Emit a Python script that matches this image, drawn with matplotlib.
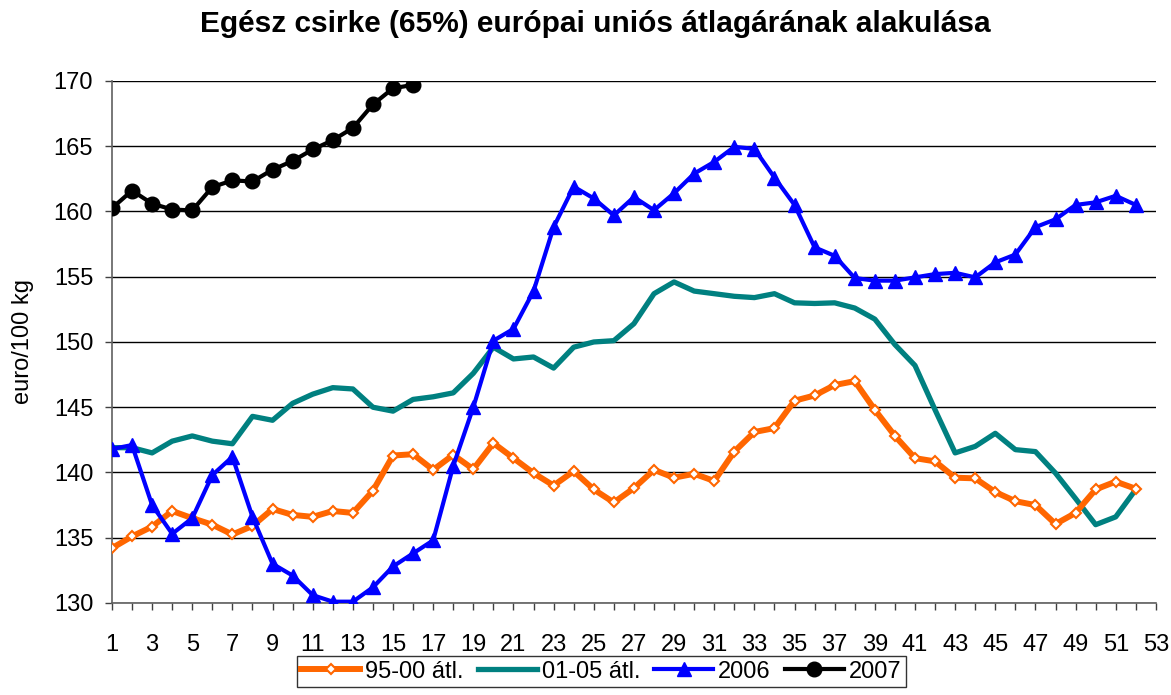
import numpy as np
import matplotlib.pyplot as plt

plt.rcParams['font.family'] = ['Liberation Sans', 'DejaVu Sans']

weeks = np.arange(1, 53)
weeks_2007 = np.arange(1, 17)

avg_95_00 = [134.2, 135.1, 135.85, 137.05, 136.5, 136.0, 135.25, 135.9, 137.2, 136.75,
             136.6, 137.05, 136.9, 138.6, 141.3, 141.4, 140.2, 141.35, 140.25, 142.25,
             141.1, 139.95, 139.0, 140.1, 138.7, 137.7, 138.8, 140.2, 139.6, 139.9,
             139.35, 141.6, 143.1, 143.4, 145.5, 145.9, 146.7, 147.0, 144.8, 142.8,
             141.1, 140.85, 139.6, 139.55, 138.5, 137.8, 137.5, 136.05, 136.9, 138.7,
             139.3, 138.75]
avg_01_05 = [141.9, 141.9, 141.5, 142.4, 142.8, 142.4, 142.2, 144.3, 144.0, 145.3,
             146.0, 146.5, 146.4, 145.0, 144.7, 145.6, 145.8, 146.1, 147.6, 149.6,
             148.7, 148.85, 148.0, 149.6, 150.0, 150.1, 151.4, 153.7, 154.6, 153.9,
             153.7, 153.5, 153.4, 153.7, 153.0, 152.95, 153.0, 152.6, 151.75, 149.8,
             148.2, 144.8, 141.5, 142.0, 143.0, 141.75, 141.6, 139.95, 138.0, 136.0,
             136.6, 138.7]
y2006 = [141.8, 142.1, 137.5, 135.3, 136.5, 139.8, 141.2, 136.6, 133.0, 132.1,
         130.6, 130.1, 130.1, 131.2, 132.8, 133.8, 134.8, 140.5, 145.0, 150.1,
         151.0, 153.9, 158.8, 161.9, 161.0, 159.7, 161.1, 160.1, 161.4, 162.9,
         163.8, 164.95, 164.8, 162.6, 160.5, 157.25, 156.6, 154.9, 154.7, 154.7,
         154.95, 155.2, 155.3, 154.95, 156.1, 156.7, 158.8, 159.4, 160.5, 160.7,
         161.2, 160.5]
y2007 = [160.25, 161.6, 160.6, 160.15, 160.08, 161.87, 162.38, 162.3, 163.2, 163.87,
         164.75, 165.46, 166.4, 168.2, 169.44, 169.7]

fig = plt.figure(figsize=(11.71, 6.95), dpi=100)
ax = fig.add_axes([0.0956, 0.1324, 0.8915, 0.7511])

ax.plot(weeks, avg_01_05, color='#008080', lw=3.8, label='01-05 átl.', zorder=3)
ax.plot(weeks, avg_95_00, color='#FF6600', lw=4.3, marker='D', markersize=5.5,
        markerfacecolor='white', markeredgecolor='#FF6600', markeredgewidth=1.5,
        label='95-00 átl.', zorder=4)
ax.plot(weeks, y2006, color='#0000FF', lw=3, marker='^', markersize=10.5,
        label='2006', zorder=5)
ax.plot(weeks_2007, y2007, color='black', lw=3, marker='o', markersize=10.5,
        label='2007', zorder=6)

ax.set_xlim(1, 53)
ax.set_ylim(130, 170)
ax.set_yticks(np.arange(130, 171, 5))
ax.set_xticks(np.arange(1, 54, 1), minor=True)
ax.set_xticks(np.arange(1, 54, 2))
ax.tick_params(axis='x', which='both', direction='out', length=5, width=1,
               color='#404040', labelsize=17, pad=17)
ax.tick_params(axis='y', direction='out', length=5, width=1, color='#404040',
               labelsize=17, pad=8.5)
ax.grid(axis='y', color='black', lw=1)
ax.set_axisbelow(True)
for s in ['top', 'right']:
    ax.spines[s].set_visible(False)
for s in ['left', 'bottom']:
    ax.spines[s].set_color('#606060')
    ax.spines[s].set_linewidth(1.2)

ax.set_ylabel('euro/100 kg', fontsize=17)
ax.yaxis.set_label_coords(-0.0747, 0.5)
fig.suptitle('Egész csirke (65%) európai uniós átlagárának alakulása',
             fontsize=21.5, fontweight='bold', x=0.508, y=0.985)

handles, labels = ax.get_legend_handles_labels()
order = [1, 0, 2, 3]
leg = fig.legend([handles[i] for i in order], [labels[i] for i in order],
                 loc='upper center', bbox_to_anchor=(0.5135, 0.0561), ncol=4,
                 fontsize=17, frameon=True, fancybox=False, edgecolor='black',
                 handlelength=2.5, handletextpad=0.2, columnspacing=0.6,
                 borderpad=0.2, borderaxespad=0)
leg.get_frame().set_linewidth(1)

fig.savefig('out.png', dpi=100)
